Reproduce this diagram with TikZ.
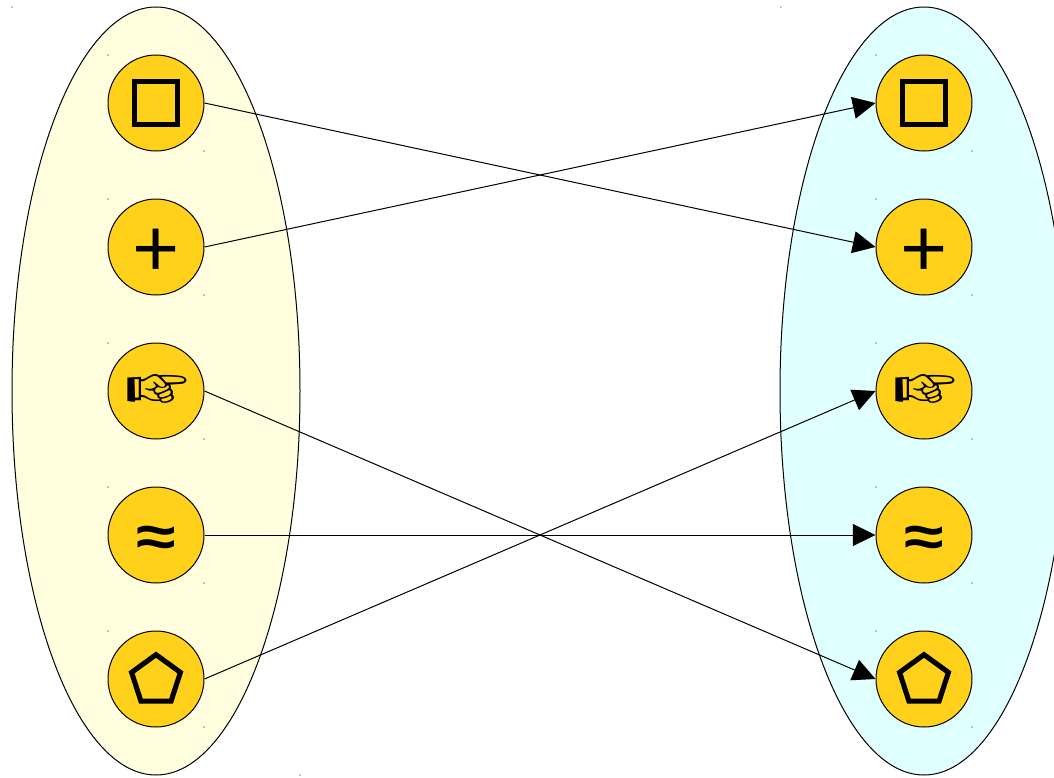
\documentclass[tikz,border=0pt]{standalone}
\usepackage{fontspec}
\usepackage{pifont}
\setmainfont{Liberation Sans}
\newfontfamily\plusfont{Lato}
\usetikzlibrary{arrows.meta,shapes.geometric}
\definecolor{setleft}{HTML}{FFFFE0}
\definecolor{setright}{HTML}{E0FFFF}
\definecolor{item}{HTML}{FFD11A}
\tikzset{
  setbox/.style={draw,ellipse,line width=0.75pt,minimum width=216pt,minimum height=576pt,inner sep=0pt},
  itembox/.style={draw,circle,fill=item,line width=0.75pt,minimum size=72pt,inner sep=0pt},
  glyph/.style={inner sep=0pt,text=black},
  mapsto/.style={line width=0.75pt,-{Triangle[length=17pt,width=16.5pt]}}
}
\begin{document}
\begin{tikzpicture}[x=0.75pt,y=-0.75pt]
\useasboundingbox (0,0) rectangle (1054,778);
% The two sets
\node[setbox,fill=setleft] (setA) at (156,391) {};
\node[setbox,fill=setright] (setB) at (924,391) {};
% Items in both sets
\foreach \side/\x in {A/156,B/924} {
  \node[itembox] (square\side) at (\x,103) {};
  \node[itembox] (plus\side) at (\x,247) {};
  \node[itembox] (hand\side) at (\x,391) {};
  \node[itembox] (approx\side) at (\x,535) {};
  \node[itembox] (penta\side) at (\x,679) {};
  \node[draw,line width=4pt,minimum size=32.5pt,inner sep=0pt] (squareglyph\side) at (square\side) {};
  \node[glyph,font=\plusfont\fontsize{61}{61}\selectfont,yshift=-4pt] (plusglyph\side) at (plus\side) {+};
  \node[glyph,font=\fontsize{51}{51}\selectfont,xshift=1pt,yshift=-1.5pt] (handglyph\side) at (hand\side) {\ding{43}};
  \node[glyph,font=\fontsize{54}{54}\selectfont\bfseries,yshift=-4.5pt] (approxglyph\side) at (approx\side) {\scalebox{1}[0.8]{≈}};
  \node[draw,regular polygon,regular polygon sides=5,line width=3.8pt,minimum size=38.5pt,inner sep=0pt,yshift=-1pt] (pentaglyph\side) at (penta\side) {};
}
% Corner dots
\foreach \y in {55,199,343,487,631} {
  \foreach \x in {108,876} {
    \fill (\x,\y) circle (0.4pt);
    \fill (\x+96,\y+96) circle (0.4pt);
  }
}
\fill (12,7) circle (0.4pt);
\fill (300,775) circle (0.4pt);
\fill (781,7) circle (0.4pt);
% Mapping
\draw[mapsto] (squareA.east) -- (plusB.west);
\draw[mapsto] (plusA.east) -- (squareB.west);
\draw[mapsto] (handA.east) -- (pentaB.west);
\draw[mapsto] (approxA.east) -- (approxB.west);
\draw[mapsto] (pentaA.east) -- (handB.west);
\end{tikzpicture}
\end{document}
